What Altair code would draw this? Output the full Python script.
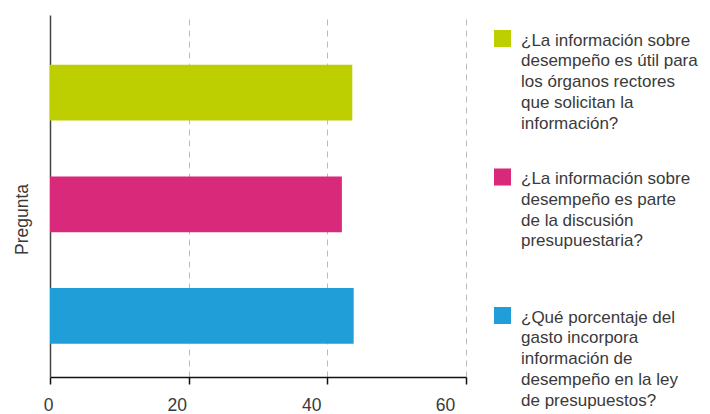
import altair as alt
import pandas as pd

questions = [
    "¿La información sobre|desempeño es útil para|los órganos rectores|que solicitan la|información?",
    "¿La información sobre|desempeño es parte|de la discusión|presupuestaria?",
    "¿Qué porcentaje del|gasto incorpora|información de|desempeño en la ley|de presupuestos?",
]
values = [43.6, 42.1, 43.8]
colors = ["#BDCF00", "#D8297A", "#209ED8"]
x_ticks = [0, 20, 40, 60]

df = pd.DataFrame({"Pregunta": questions, "Porcentaje": values})

FONT = "Liberation Sans"
TXT = "#3a3a3a"

chart = alt.Chart(df).mark_bar().encode(
    x=alt.X(
        "Porcentaje:Q",
        scale=alt.Scale(domain=[0, 60], nice=False),
        axis=alt.Axis(
            values=x_ticks, title=None, grid=True, gridDash=[6, 5], gridColor="#bbbbbb",
            gridWidth=1, domainColor="#111111", domainWidth=1.5, tickColor="#111111",
            tickWidth=1.5, tickSize=7, labelPadding=18, labelFontSize=17.5, labelColor=TXT,
            labelFont=FONT, labelFlush=False,
            labelOffset={"condition": [
                {"test": "datum.value == 20", "value": -12},
                {"test": "datum.value == 40", "value": -16},
                {"test": "datum.value == 60", "value": -21},
            ], "value": -2},
        ),
    ),
    y=alt.Y(
        "Pregunta:N",
        sort=questions,
        scale=alt.Scale(paddingInner=0.5, paddingOuter=0.372, align=0.6),
        axis=alt.Axis(
            labels=False, ticks=False, title="Pregunta", titleFont=FONT, titleFontSize=17.5,
            titleFontWeight="normal", titleColor=TXT, titleX=-28, titleY=204,
            titleAngle=270, titleAlign="center", titleBaseline="middle",
            domainColor="#444444", domainWidth=1.5, grid=False,
        ),
    ),
    color=alt.Color(
        "Pregunta:N",
        sort=questions,
        scale=alt.Scale(domain=questions, range=colors),
        legend=alt.Legend(
            title=None, orient="none", legendX=444, legendY=15,
            labelExpr="split(datum.label, '|')", labelLimit=0,
            symbolType="square", symbolSize=289, symbolStrokeWidth=0, symbolOpacity=1,
            gridAlign="all", rowPadding=36.5, labelBaseline="top", labelFontSize=17,
            labelFont=FONT, labelColor=TXT, labelOffset=10,
        ),
    ),
).properties(
    width=416, height=362,
    autosize=alt.AutoSizeParams(type="none"),
    padding={"left": 42, "top": 7, "right": 236, "bottom": 40},
).configure(
    view={"stroke": "transparent"},
    style={"guide-label": {"lineHeight": 20.8, "dy": -6}},
)

chart.save("out.html", embed_options={"renderer": "svg", "actions": False})
